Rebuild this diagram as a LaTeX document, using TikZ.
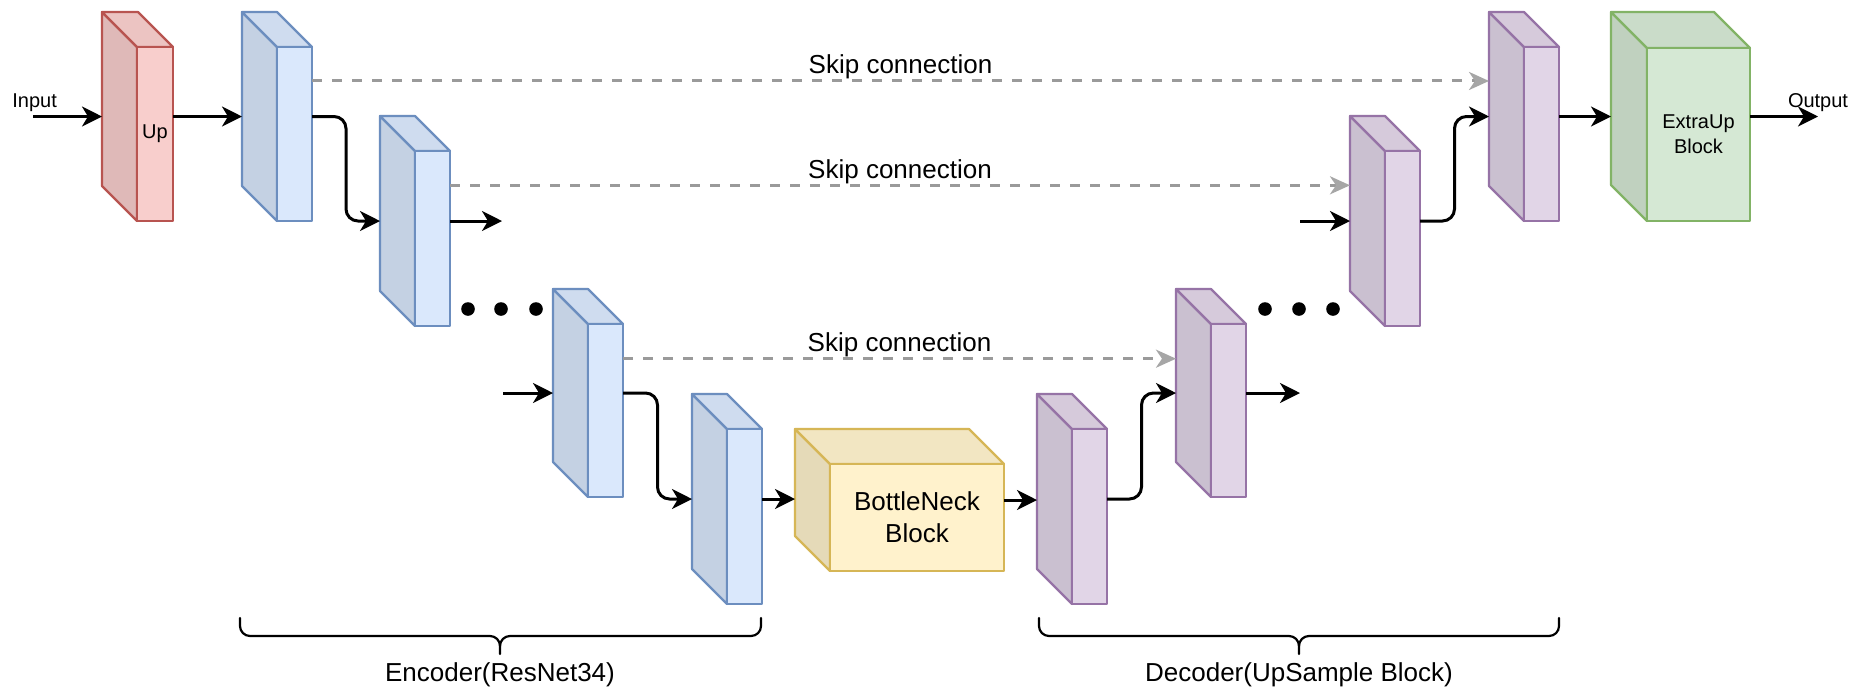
\documentclass[tikz,border=0pt]{standalone}
\usepackage{fontspec}
\setmainfont{Liberation Sans}
\usetikzlibrary{arrows.meta,calc}

\definecolor{redfill}{HTML}{F8CECC}
\definecolor{redline}{HTML}{B85450}
\definecolor{bluefill}{HTML}{DAE8FC}
\definecolor{blueline}{HTML}{6C8EBF}
\definecolor{purplefill}{HTML}{E1D5E7}
\definecolor{purpleline}{HTML}{9673A6}
\definecolor{yellowfill}{HTML}{FFF2CC}
\definecolor{yellowline}{HTML}{D6B656}
\definecolor{greenfill}{HTML}{D5E8D4}
\definecolor{greenline}{HTML}{82B366}
\definecolor{skipgray}{HTML}{9A9A9A}
\definecolor{skiphead}{HTML}{A6A6A6}

\tikzset{
  cube edge/.style={line width=1.1pt, line join=round},
  flow/.style={line width=1.5pt, -{Stealth[length=10pt,width=10pt,inset=3pt]}},
  skip/.style={draw=skipgray, line width=1.5pt, dash pattern=on 5pt off 5pt,
    -{Stealth[length=10pt,width=9pt,inset=3pt,fill=skiphead,color=skiphead]}},
  bigtext/.style={font=\fontsize{13}{16}\selectfont, align=center, inner sep=0pt},
  smalltext/.style={font=\fontsize{10}{12.5}\selectfont, align=center, inner sep=0pt},
  bracket/.style={line width=1.1pt, line cap=round, line join=round},
  dot/.style={fill=black},
}

% 3D block: #1 name, #2 left, #3 top, #4 width, #5 height, #6 depth, #7 fill, #8 stroke
\newcommand{\cubeblock}[8]{%
  \filldraw[cube edge, fill=#7!90!black, draw=#8]
    (#2,#3) -- (#2+#6,#3+#6) -- (#2+#6,#3+#5) -- (#2,#3+#5-#6) -- cycle;
  \filldraw[cube edge, fill=#7!95!black, draw=#8]
    (#2,#3) -- (#2+#4-#6,#3) -- (#2+#4,#3+#6) -- (#2+#6,#3+#6) -- cycle;
  \filldraw[cube edge, fill=#7, draw=#8] (#2+#6,#3+#6) rectangle (#2+#4,#3+#5);
  \node[inner sep=0pt, outer sep=0pt, minimum width=#4*0.5pt, minimum height=#5*0.5pt,
        anchor=north west] (#1) at (#2,#3) {};
  \coordinate (#1-face) at (#2+#6/2+#4/2, #3+#6/2+#5/2);
}

\begin{document}
\begin{tikzpicture}[x=0.5pt, y=-0.5pt]
\fill[white] (0,0) rectangle (1857,687);
\useasboundingbox (0,0) rectangle (1857,687);

% start points of the skip connections on the encoder blocks
\path (242+70,12) coordinate (e1ne) (242+70,12+209) coordinate (e1se);
\path (380+70,116) coordinate (e2ne) (380+70,116+210) coordinate (e2se);
\path (553+70,289) coordinate (e3ne) (553+70,289+208) coordinate (e3se);
\coordinate (s1) at ($(e1ne)!0.33!(e1se)$);
\coordinate (s2) at ($(e2ne)!0.33!(e2se)$);
\coordinate (s3) at ($(e3ne)!0.335!(e3se)$);

% blocks
\cubeblock{up}{102}{12}{71}{209}{35}{redfill}{redline}
\cubeblock{enc1}{242}{12}{70}{209}{35}{bluefill}{blueline}
\cubeblock{enc2}{380}{116}{70}{210}{35}{bluefill}{blueline}
\cubeblock{enc3}{553}{289}{70}{208}{35}{bluefill}{blueline}
\cubeblock{enc4}{692}{394}{70}{210}{35}{bluefill}{blueline}
\cubeblock{neck}{795}{429}{209}{142}{35}{yellowfill}{yellowline}
\cubeblock{dec1}{1037}{394}{70}{210}{35}{purplefill}{purpleline}
\cubeblock{dec2}{1176}{289}{70}{208}{35}{purplefill}{purpleline}
\cubeblock{dec3}{1350}{116}{70}{210}{35}{purplefill}{purpleline}
\cubeblock{dec4}{1489}{12}{70}{209}{35}{purplefill}{purpleline}
\cubeblock{extra}{1611}{12}{139}{209}{36}{greenfill}{greenline}

\node[smalltext] (uptext) at (up-face) {Up};
\node[bigtext] (necktext) at (neck-face) {BottleNeck\\Block};
\node[smalltext] (extratext) at (extra-face) {ExtraUp\\Block};

% skip connections
\draw[skip] (s1) -- (s1 -| dec4.west)
  node[midway, bigtext, anchor=base, yshift=3.5pt] (skiplabel1) {Skip connection};
\draw[skip] (s2) -- (s2 -| dec3.west)
  node[midway, bigtext, anchor=base, yshift=3.5pt] (skiplabel2) {Skip connection};
\draw[skip] (s3) -- (s3 -| dec2.west)
  node[midway, bigtext, anchor=base, yshift=3.5pt] (skiplabel3) {Skip connection};

% main data flow
\coordinate (in) at (33,116.5);
\node[smalltext, anchor=base west] (inlabel) at (12,107) {Input};
\draw[flow] (in) -- (up.west);
\draw[flow] (up.east) -- (enc1.west);
\draw[flow, rounded corners=6pt] (enc1.east) -| ($(enc1.east)!0.5!(enc2.west)$) |- (enc2.west);
\coordinate (enc2out) at (502,221);
\draw[flow] (enc2.east) -- (enc2out);
\coordinate (enc3in) at (503,393);
\draw[flow] (enc3in) -- (enc3.west);
\draw[flow, rounded corners=6pt] (enc3.east) -| ($(enc3.east)!0.5!(enc4.west)$) |- (enc4.west);
\draw[flow] (enc4.east) -- (enc4.east -| neck.west);
\draw[flow] (neck.east) -- (neck.east -| dec1.west);
\draw[flow, rounded corners=6pt] (dec1.east) -| ($(dec1.east)!0.5!(dec2.west)$) |- (dec2.west);
\coordinate (dec2out) at (1300,393);
\draw[flow] (dec2.east) -- (dec2out);
\coordinate (dec3in) at (1300,221);
\draw[flow] (dec3in) -- (dec3.west);
\draw[flow, rounded corners=6pt] (dec3.east) -| ($(dec3.east)!0.5!(dec4.west)$) |- (dec4.west);
\draw[flow] (dec4.east) -- (dec4.east -| extra.west);
\coordinate (out) at (1818,116.5);
\draw[flow] (extra.east) -- (out);
\node[smalltext, anchor=base] (outlabel) at (1818,107) {Output};

% ellipsis dots
\foreach \x in {468,501,536} \fill[dot] (\x,309) circle[radius=3.4pt];
\foreach \x in {1265,1299,1333} \fill[dot] (\x,309) circle[radius=3.4pt];

% braces under encoder and decoder
\draw[bracket] (240,618) -- (240,626) to[out=-90,in=180] (250,636) -- (490,636)
  to[out=0,in=90] (500,646) -- (500,654);
\draw[bracket] (761,618) -- (761,626) to[out=-90,in=0] (751,636) -- (510,636)
  to[out=180,in=90] (500,646);
\draw[bracket] (1039,618) -- (1039,626) to[out=-90,in=180] (1049,636) -- (1289,636)
  to[out=0,in=90] (1299,646) -- (1299,654);
\draw[bracket] (1559,618) -- (1559,626) to[out=-90,in=0] (1549,636) -- (1309,636)
  to[out=180,in=90] (1299,646);

\node[bigtext, anchor=base] (enclabel) at (500,681) {Encoder(ResNet34)};
\node[bigtext, anchor=base] (declabel) at (1299,681) {Decoder(UpSample Block)};
\end{tikzpicture}
\end{document}
